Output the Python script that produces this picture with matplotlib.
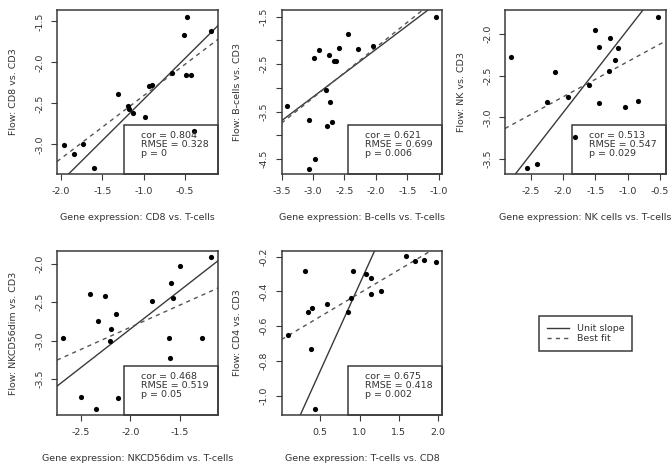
import matplotlib

matplotlib.use("Agg")
import matplotlib.pyplot as plt
from matplotlib.lines import Line2D
from matplotlib.patches import Rectangle

plt.rcParams["font.family"] = ["DejaVu Sans"]

# values, one block per panel
CD8_X = [-0.47, -0.51, -0.18, -0.66, -0.49, -0.43, -0.93, -0.90, -1.31, -1.19,
         -1.18, -1.125, -0.98, -0.39, -1.97, -1.73, -1.85, -1.60]
CD8_Y = [-1.45, -1.67, -1.61, -2.13, -2.15, -2.15, -2.29, -2.28, -2.39, -2.53,
         -2.57, -2.61, -2.66, -2.83, -3.01, -2.99, -3.12, -3.29]

BCELL_X = [-1.04, -2.45, -2.04, -2.29, -2.59, -2.90, -2.98, -2.75, -2.67, -2.63,
           -2.80, -2.73, -2.70, -2.77, -3.06, -3.41, -2.97, -3.06]
BCELL_Y = [-1.51, -1.87, -2.11, -2.19, -2.16, -2.21, -2.36, -2.30, -2.44, -2.43,
           -3.05, -3.30, -3.72, -3.81, -3.67, -3.37, -4.49, -4.70]

NK_X = [-0.53, -1.50, -1.27, -1.45, -1.15, -1.19, -1.29, -2.80, -2.13, -1.60,
        -1.93, -2.24, -1.45, -1.04, -0.84, -1.81, -2.40, -2.55]
NK_Y = [-1.79, -1.95, -2.05, -2.15, -2.17, -2.31, -2.44, -2.27, -2.45, -2.61,
        -2.75, -2.82, -2.83, -2.88, -2.80, -3.23, -3.56, -3.61]

NKDIM_X = [-1.18, -1.50, -1.59, -1.57, -1.78, -2.41, -2.26, -2.14, -2.33, -2.20,
           -2.21, -2.68, -1.61, -1.275, -1.60, -2.50, -2.12, -2.35]
NKDIM_Y = [-1.92, -2.03, -2.25, -2.45, -2.48, -2.39, -2.42, -2.66, -2.75, -2.85,
           -3.01, -2.96, -2.97, -2.96, -3.22, -3.73, -3.74, -3.89]

CD4_X = [1.59, 1.70, 1.82, 1.97, 0.31, 0.92, 1.08, 1.14, 1.14, 1.27,
         0.89, 0.59, 0.39, 0.34, 0.85, 0.09, 0.38, 0.43]
CD4_Y = [-0.198, -0.227, -0.217, -0.233, -0.281, -0.285, -0.297, -0.320, -0.416, -0.397,
         -0.436, -0.470, -0.494, -0.519, -0.519, -0.652, -0.729, -1.079]

XLABELS = ["Gene expression: CD8 vs. T-cells", "Gene expression: B-cells vs. T-cells",
           "Gene expression: NK cells vs. T-cells", "Gene expression: NKCD56dim vs. T-cells",
           "Gene expression: T-cells vs. CD8"]
YLABELS = ["Flow: CD8 vs. CD3", "Flow: B-cells vs. CD3", "Flow: NK vs. CD3",
           "Flow: NKCD56dim vs. CD3", "Flow: CD4 vs. CD3"]
COR = ["0.804", "0.621", "0.513", "0.468", "0.675"]
RMSE = ["0.328", "0.699", "0.547", "0.519", "0.418"]
PVAL = ["0", "0.006", "0.029", "0.05", "0.002"]

UNIT_INTERCEPT = [-1.45, -0.19, -0.945, -0.85, -1.357]
FIT_SLOPE = [0.765, 1.06, 0.424, 0.575, 0.269]
FIT_INTERCEPT = [-1.64, -0.03, -1.906, -1.677, -0.679]

XLIMS = [(-2.05, -0.10), (-3.50, -0.94), (-2.895, -0.41), (-2.742, -1.113), (0.006, 2.055)]
YLIMS = [(-3.36, -1.36), (-4.81, -1.36), (-3.68, -1.71), (-3.967, -1.836), (-1.112, -0.167)]
XTICKS = [[-2.0, -1.5, -1.0, -0.5], [-3.5, -3.0, -2.5, -2.0, -1.5, -1.0],
          [-2.5, -2.0, -1.5, -1.0, -0.5], [-2.5, -2.0, -1.5], [0.5, 1.0, 1.5, 2.0]]
YTICKS = [[-3.0, -2.5, -2.0, -1.5], [-4.5, -4.0, -3.5, -3.0, -2.5, -2.0, -1.5],
          [-3.5, -3.0, -2.5, -2.0], [-3.5, -3.0, -2.5, -2.0], [-1.0, -0.8, -0.6, -0.4, -0.2]]
YTICK_LABELS = [["-3.0", "-2.5", "-2.0", "-1.5"], ["-4.5", "", "-3.5", "", "-2.5", "", "-1.5"],
                ["-3.5", "-3.0", "-2.5", "-2.0"], ["-3.5", "-3.0", "-2.5", "-2.0"],
                ["-1.0", "-0.8", "-0.6", "-0.4", "-0.2"]]

PANELS = [(CD8_X, CD8_Y), (BCELL_X, BCELL_Y), (NK_X, NK_Y), (NKDIM_X, NKDIM_Y), (CD4_X, CD4_Y)]

W, H = 671, 469
FRAME = "#3a3a3a"
TXT = "#333333"
FS = 6.8


def main() -> None:
    fig = plt.figure(figsize=(W / 100, H / 100), dpi=100)
    lefts = [57, 281.5, 505]
    tops = [10, 251]
    aw, ah = 161, 164
    for i, (xs, ys) in enumerate(PANELS):
        left = lefts[i % 3]
        top = tops[i // 3]
        ax = fig.add_axes([left / W, 1 - (top + ah) / H, aw / W, ah / H])
        ax.scatter(xs, ys, s=14, color="black", zorder=3, linewidths=0)
        x0, x1 = XLIMS[i]
        ax.plot([x0, x1], [x0 + UNIT_INTERCEPT[i], x1 + UNIT_INTERCEPT[i]],
                color=FRAME, lw=1.0, zorder=2)
        ax.plot([x0, x1], [FIT_SLOPE[i] * x0 + FIT_INTERCEPT[i], FIT_SLOPE[i] * x1 + FIT_INTERCEPT[i]],
                color="#555555", lw=1.0, ls=(0, (3, 3)), zorder=2)
        ax.set_xlim(XLIMS[i])
        ax.set_ylim(YLIMS[i])
        ax.set_xticks(XTICKS[i])
        ax.set_xticklabels([f"{t:.1f}" for t in XTICKS[i]])
        ax.set_yticks(YTICKS[i])
        ax.set_yticklabels(YTICK_LABELS[i], rotation=90, va="center")
        ax.tick_params(length=4, width=0.8, color=FRAME, labelsize=FS, labelcolor=TXT, pad=5)
        for sp in ax.spines.values():
            sp.set_color(FRAME)
            sp.set_linewidth(1.1)
        ax.set_xlabel(XLABELS[i], fontsize=FS, color=TXT)
        ax.set_ylabel(YLABELS[i], fontsize=FS, color=TXT)
        ax.xaxis.set_label_coords(0.5, -0.24)
        ax.yaxis.set_label_coords(-0.245, 0.5)

        ax.add_patch(Rectangle((0.415, 0), 0.585, 0.30, transform=ax.transAxes,
                               fill=False, edgecolor=FRAME, lw=1.1, zorder=4, clip_on=False))
        stats = [f"cor = {COR[i]}", f"RMSE = {RMSE[i]}", f"p = {PVAL[i]}"]
        for k, s in enumerate(stats):
            ax.text(0.52, 0.232 - k * 0.054, s, transform=ax.transAxes, fontsize=FS,
                    color=TXT, va="center", ha="left", zorder=5)

    handles = [Line2D([], [], color=FRAME, lw=1.0),
               Line2D([], [], color="#555555", lw=1.0, ls=(0, (3, 3)))]
    leg = fig.legend(handles, ["Unit slope", "Best fit"], loc="center",
                     bbox_to_anchor=(585.5 / W, 1 - 333.5 / H), fontsize=FS,
                     fancybox=False, framealpha=1, edgecolor=FRAME, handlelength=2.4,
                     borderpad=0.8, labelspacing=0.1, handletextpad=0.8)
    leg.get_frame().set_linewidth(1.1)
    for t in leg.get_texts():
        t.set_color(TXT)

    fig.savefig("out.png", dpi=100)
    plt.close(fig)


if __name__ == "__main__":
    main()
